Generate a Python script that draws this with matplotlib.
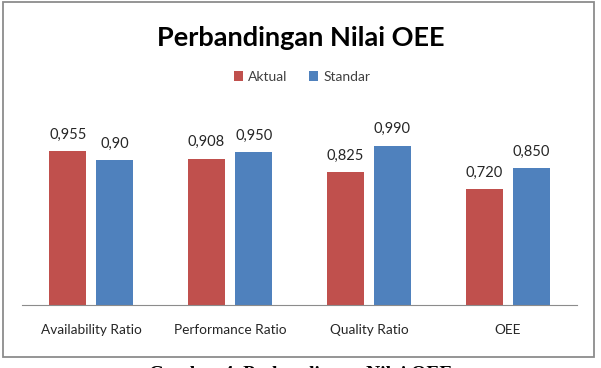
import numpy as np
import matplotlib.pyplot as plt
from matplotlib.patches import Rectangle

categories = ['Availability Ratio', 'Performance Ratio', 'Quality Ratio', 'OEE']
aktual = [0.955, 0.908, 0.825, 0.720]
standar = [0.90, 0.950, 0.990, 0.850]
aktual_labels = ['0,955', '0,908', '0,825', '0,720']
standar_labels = ['0,90', '0,950', '0,990', '0,850']

red = '#c0504d'
blue = '#4f81bd'
font = ['Lato', 'DejaVu Sans']
plt.rcParams['font.family'] = font

W, H = 601, 368
fig = plt.figure(figsize=(W / 100, H / 100), dpi=100)

# outer chart frame
fig.patches.append(Rectangle((3 / W, 1 - 357 / H), 591 / W, 355 / H,
                             transform=fig.transFigure, fill=False,
                             edgecolor='#8c8c8c', linewidth=1.3))

ax = fig.add_axes([22 / W, 1 - 305 / H, 555 / W, 193 / H])
x = np.arange(len(categories))
w = 0.267
off = 0.17
b1 = ax.bar(x - off, aktual, w, color=red, label='Aktual')
b2 = ax.bar(x + off, standar, w, color=blue, label='Standar')

for bars, labs in ((b1, aktual_labels), (b2, standar_labels)):
    for b, t in zip(bars, labs):
        ax.annotate(t, (b.get_x() + b.get_width() / 2, b.get_height()),
                    xytext=(0, 7), textcoords='offset points',
                    ha='center', va='bottom', fontsize=10.5, color='#262626')

ax.set_xlim(-0.5, len(categories) - 0.5)
ax.set_ylim(0, 1.2)
ax.set_xticks(x)
ax.set_xticklabels(categories, fontsize=9.8, color='#262626')
ax.tick_params(axis='x', length=0, pad=14)
ax.set_yticks([])
for s in ['top', 'right', 'left']:
    ax.spines[s].set_visible(False)
ax.spines['bottom'].set_color('#8c8c8c')

fig.text(0.5, 1 - 38 / H, 'Perbandingan Nilai OEE', ha='center', va='center',
         fontsize=19.5, fontweight='bold', color='black')

fig.legend(loc='center', bbox_to_anchor=(302 / W, 1 - 77 / H), ncol=2,
           frameon=False, fontsize=10, handlelength=0.65, handleheight=0.65,
           handletextpad=0.35, columnspacing=1.6, labelcolor='#404040')

# figure caption, mostly cropped away at the bottom edge as in the source image
fig.text(0.5, 1 - 366 / H, 'Gambar 4. Perbandingan Nilai OEE', ha='center',
         va='top', fontsize=14, fontweight='bold',
         family=['Liberation Serif', 'DejaVu Serif'])

fig.savefig('out.png', dpi=100)
